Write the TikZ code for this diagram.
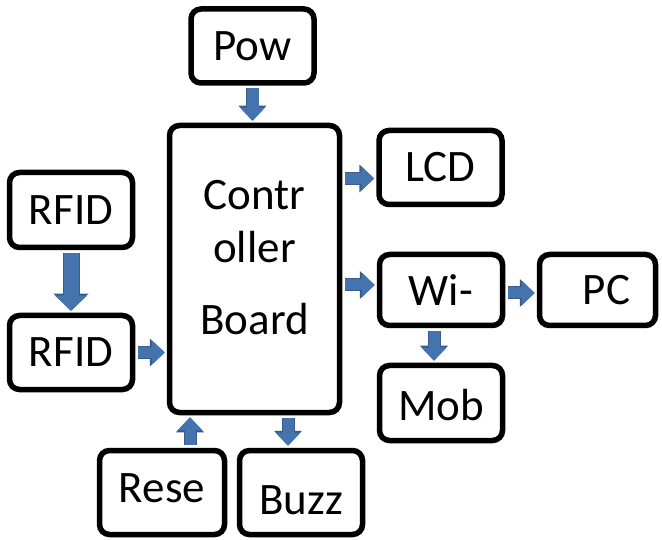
\documentclass[tikz,border=0pt]{standalone}
\usepackage{fontspec}
\setmainfont{Carlito}
\usepackage{tikz}
\usetikzlibrary{arrows.meta,positioning}

\definecolor{arrowblue}{HTML}{4473AD}
\definecolor{arrowedge}{HTML}{385D8A}

\tikzset{
	box/.style={draw,line width=5.5pt,rounded corners=10pt,fill=white,inner sep=0pt,
		minimum width=123pt,minimum height=74pt,font=\fontsize{45}{53}\selectfont},
	flow/.style={line width=11pt,draw=arrowblue,-{Triangle[width=24pt,length=13pt]},
		shorten <=2.5pt,shorten >=2pt,
		preaction={draw=arrowedge,line width=13pt,-{Triangle[width=27pt,length=15pt]}}},
	bigflow/.style={flow,line width=15pt,-{Triangle[width=31pt,length=15pt]},
		preaction={draw=arrowedge,line width=17pt,-{Triangle[width=34pt,length=17pt]}}}
}

\begin{document}
\begin{tikzpicture}[x=1pt,y=-1pt]
	\useasboundingbox (0,0) rectangle (662,540);

	% blocks
	\node[box] (pow) at (252.5,46) {Pow};
	\node[box,minimum width=170pt,minimum height=287pt,align=center,text depth=24pt] (ctrl) at (254.5,269) {Contr\\oller\\[19pt]Board};
	\node[box] (lcd) at (440.5,167.5) {LCD};
	\node[box,minimum height=75pt] (rfid1) at (71,210) {RFID};
	\node[box] (rfid2) at (71,352.5) {RFID};
	\node[box,minimum height=71pt] (wifi) at (441,290) {Wi-};
	\node[box,minimum width=116pt,minimum height=71pt] (pc) at (597.5,290) {\hspace*{18pt}PC};
	\node[box,minimum height=75pt,text height=36pt] (mob) at (441,403) {Mob};
	\node[box,minimum width=125pt,minimum height=84pt,text depth=8pt] (rese) at (162,492.5) {Rese};
	\node[box,minimum height=84pt,text height=45pt] (buzz) at (301,492.5) {Buzz};

	% connections
	\coordinate (lcdin) at ([yshift=-11pt]lcd.west);
	\coordinate (reseout) at ([xshift=28pt]rese.north);
	\coordinate (buzzin) at ([xshift=-13pt]buzz.north);

	\draw[flow,line width=12pt] (pow.south) -- (pow.south |- ctrl.north);
	\draw[bigflow] (rfid1.south) -- (rfid2.north);
	\draw[flow] (rfid2.east) -- (rfid2.east -| ctrl.west);
	\draw[flow] (ctrl.east |- lcdin) -- (lcdin);
	\draw[flow] ([yshift=5pt]ctrl.east |- wifi) -- ([yshift=5pt]wifi.west);
	\draw[flow] ([yshift=-3pt]wifi.east) -- ([yshift=-3pt]pc.west);
	\draw[flow] ([xshift=-7pt]wifi.south) -- ([xshift=-7pt]mob.north);
	\draw[flow] (reseout) -- (reseout |- ctrl.south);
	\draw[flow] (buzzin |- ctrl.south) -- (buzzin);
\end{tikzpicture}
\end{document}
